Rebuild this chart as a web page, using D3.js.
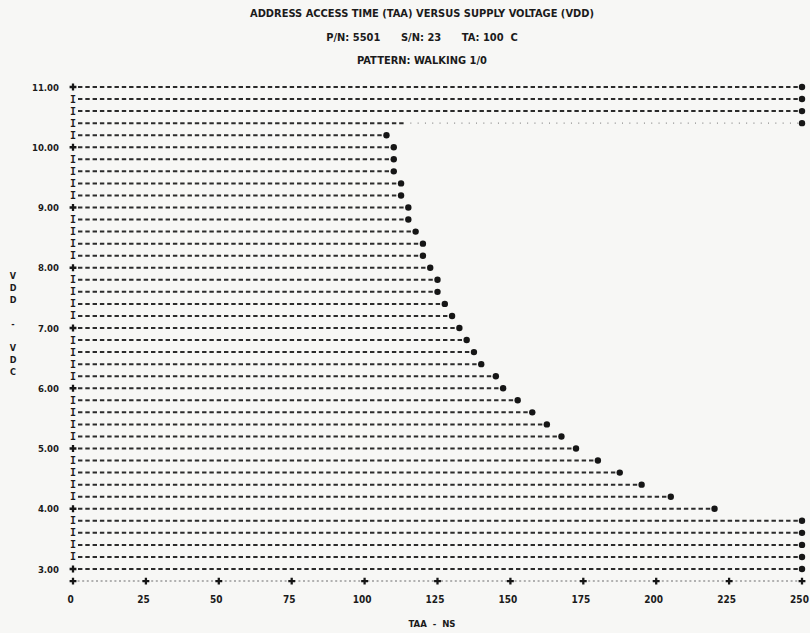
<!DOCTYPE html>
<html>
<head>
<meta charset="utf-8">
<script src="https://cdn.jsdelivr.net/npm/d3@7/dist/d3.min.js"></script>
<style>
  html, body { margin: 0; padding: 0; background: #f7f7f5; }
  svg { display: block; }
  .prn { font-family: "DejaVu Sans Condensed", "DejaVu Sans", sans-serif; font-weight: bold; fill: #1b1b1b; }
  .mono { font-family: "DejaVu Sans Mono", monospace; font-weight: bold; fill: #1b1b1b; }
</style>
</head>
<body>
<svg id="chart" width="810" height="633"></svg>
<script>
'use strict';

// title lines as printed
var titleLines = [
    'ADDRESS ACCESS TIME (TAA) VERSUS SUPPLY VOLTAGE (VDD)',
    'P/N: 5501      S/N: 23      TA: 100  C',
    'PATTERN: WALKING 1/0'
];

// one printed row per 0.2 V
var voltages = [11.0, 10.8, 10.6, 10.4, 10.2, 10.0, 9.8, 9.6, 9.4, 9.2,
    9.0, 8.8, 8.6, 8.4, 8.2, 8.0, 7.8, 7.6, 7.4, 7.2,
    7.0, 6.8, 6.6, 6.4, 6.2, 6.0, 5.8, 5.6, 5.4, 5.2,
    5.0, 4.8, 4.6, 4.4, 4.2, 4.0, 3.8, 3.6, 3.4, 3.2, 3.0];

// address access time (ns); 250 = off scale
var taaNs = [250, 250, 250, 250, 107.5, 110, 110, 110, 112.5, 112.5,
    115, 115, 117.5, 120, 120, 122.5, 125, 125, 127.5, 130,
    132.5, 135, 137.5, 140, 145, 147.5, 152.5, 157.5, 162.5, 167.5,
    172.5, 180, 187.5, 195, 205, 220, 250, 250, 250, 250, 250];

// row where the dashes stop and a dotted trace continues
var dottedVolt = [10.4];
var dottedFromNs = [115];

var yTicks = [11, 10, 9, 8, 7, 6, 5, 4, 3];
var xTicks = [0, 25, 50, 75, 100, 125, 150, 175, 200, 225, 250];
var yTitleChars = ['V', 'D', 'D', '', '-', '', 'V', 'D', 'C'];
var xTitle = 'TAA  -  NS';

var svg = d3.select('#chart');
var ink = '#161616';

var x = d3.scaleLinear().domain([0, 250]).range([73, 802]);
var y = d3.scaleLinear().domain([3, 11]).range([569, 87]);
var rowStep = 0.2;
var cross = d3.symbol().type(d3.symbolCross).size(26);

// titles
svg.selectAll('text.title')
    .data(titleLines)
    .enter()
    .append('text')
    .attr('class', 'prn title')
    .attr('x', 422)
    .attr('y', function (d, i) { return 17 + i * 23.5; })
    .attr('text-anchor', 'middle')
    .attr('font-size', '11px')
    .style('white-space', 'pre')
    .text(function (d) { return d; });

// rows of dashes up to each reading
var rows = voltages.map(function (v, i) {
    var k = dottedVolt.indexOf(v);
    return { v: v, taa: taaNs[i], dashEnd: k >= 0 ? dottedFromNs[k] : taaNs[i] };
});

var gRows = svg.append('g');

gRows.selectAll('line.dash')
    .data(rows)
    .enter()
    .append('line')
    .attr('class', 'dash')
    .attr('x1', x(0) + 5)
    .attr('x2', function (d) { return x(d.dashEnd) - 3; })
    .attr('y1', function (d) { return y(d.v); })
    .attr('y2', function (d) { return y(d.v); })
    .attr('stroke', ink)
    .attr('stroke-width', 2)
    .attr('stroke-dasharray', '4.4 2.9')
    .attr('opacity', 0.9);

gRows.selectAll('line.dots')
    .data(rows.filter(function (d) { return d.dashEnd < d.taa; }))
    .enter()
    .append('line')
    .attr('class', 'dots')
    .attr('x1', function (d) { return x(d.dashEnd) + 2; })
    .attr('x2', function (d) { return x(d.taa) - 4; })
    .attr('y1', function (d) { return y(d.v); })
    .attr('y2', function (d) { return y(d.v); })
    .attr('stroke', '#8a8a8a')
    .attr('stroke-width', 1.2)
    .attr('stroke-dasharray', '1 6.3');

gRows.selectAll('circle')
    .data(rows)
    .enter()
    .append('circle')
    .attr('cx', function (d) { return x(d.taa); })
    .attr('cy', function (d) { return y(d.v); })
    .attr('r', 3.2)
    .attr('fill', ink);

// '+' at labelled rows, 'I' elsewhere
var isMajor = function (d) { return Math.abs(d.v - Math.round(d.v)) < 1e-6; };

gRows.selectAll('path.rowplus')
    .data(rows.filter(isMajor))
    .enter()
    .append('path')
    .attr('class', 'rowplus')
    .attr('d', cross)
    .attr('transform', function (d) { return 'translate(' + x(0) + ',' + y(d.v) + ')'; })
    .attr('fill', ink);

gRows.selectAll('text.rowmark')
    .data(rows.filter(function (d) { return !isMajor(d); }))
    .enter()
    .append('text')
    .attr('class', 'mono rowmark')
    .attr('x', x(0))
    .attr('y', function (d) { return y(d.v) + 3.5; })
    .attr('text-anchor', 'middle')
    .attr('font-size', '10px')
    .text('I');

// bottom printed axis row
var axisRowY = y(3 - rowStep);
svg.append('line')
    .attr('x1', x(0))
    .attr('x2', x(250))
    .attr('y1', axisRowY)
    .attr('y2', axisRowY)
    .attr('stroke', '#9a9a9a')
    .attr('stroke-width', 1.6)
    .attr('stroke-dasharray', '2 2.6');

svg.selectAll('path.xmark')
    .data(xTicks)
    .enter()
    .append('path')
    .attr('class', 'xmark')
    .attr('d', cross)
    .attr('transform', function (d) { return 'translate(' + x(d) + ',' + axisRowY + ')'; })
    .attr('fill', ink);

// tick labels
var xAxis = svg.append('g')
    .attr('transform', 'translate(-3,' + (axisRowY + 12) + ')')
    .call(d3.axisBottom(x).tickValues(xTicks).tickSize(0).tickFormat(d3.format('d')));
xAxis.select('.domain').remove();
xAxis.selectAll('text')
    .attr('class', 'prn')
    .attr('font-size', '10px')
    .attr('fill', ink);

var yAxis = svg.append('g')
    .attr('transform', 'translate(' + (x(0) - 11) + ',0)')
    .call(d3.axisLeft(y).tickValues(yTicks).tickSize(0).tickFormat(d3.format('.2f')));
yAxis.select('.domain').remove();
yAxis.selectAll('text')
    .attr('class', 'prn')
    .attr('font-size', '9.5px')
    .attr('fill', ink);

// vertical y title, one char per printed row
svg.selectAll('text.ytitle')
    .data(yTitleChars)
    .enter()
    .append('text')
    .attr('class', 'prn ytitle')
    .attr('x', 13)
    .attr('y', function (d, i) { return 279 + i * 12; })
    .attr('text-anchor', 'middle')
    .attr('font-size', '9px')
    .text(function (d) { return d; });

svg.append('text')
    .attr('class', 'prn')
    .attr('x', 432)
    .attr('y', 627)
    .attr('text-anchor', 'middle')
    .attr('font-size', '9.5px')
    .style('white-space', 'pre')
    .text(xTitle);
</script>
</body>
</html>
